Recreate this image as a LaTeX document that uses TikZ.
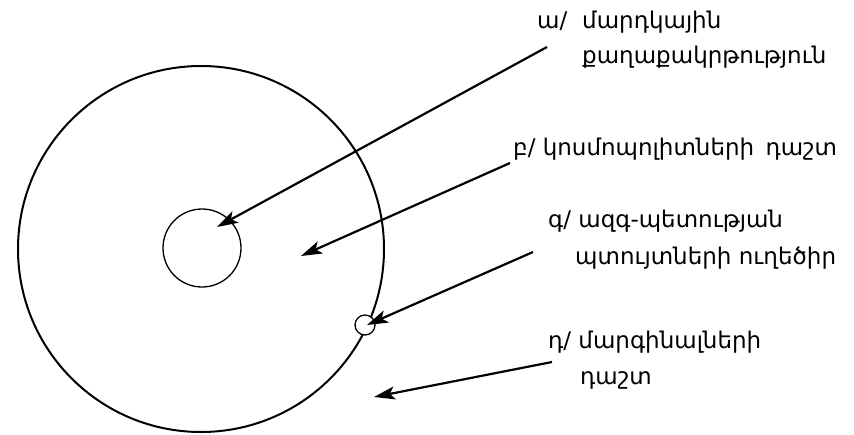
\documentclass[tikz,border=0pt]{standalone}
\usepackage{fontspec}
\setmainfont{DejaVu Sans}
\usetikzlibrary{arrows.meta,positioning}

\begin{document}
\begin{tikzpicture}[x=1pt, y=-1pt,
  ring/.style={circle, draw=black, line width=#1, inner sep=0pt},
  lbl/.style={anchor=base west, inner sep=0pt, font=\fontsize{23}{27}\selectfont},
  pointer/.style={-{Stealth[length=21pt, width=13pt, inset=5pt]}, line width=2.2pt}
]
  \useasboundingbox (0,0) rectangle (854,434);

  % Circles
  \node[ring=2pt, minimum size=366pt] (outer) at (201,249) {};
  \node[ring=1.3pt, minimum size=78pt] (inner) at (202,248) {};
  \node[ring=1.3pt, minimum size=20pt, fill=white] (orbit) at (365,325) {};

  % Labels
  \node[lbl] (aTag) at (537,28) {ա/};
  \node[lbl] (aTop) at (582,28) {մարդկային};
  \node[lbl] (aBot) at (582,63) {քաղաքակրթություն};

  \node[lbl] (bTag) at (513,155) {բ/ կոսմոպոլիտների\hspace{4pt} դաշտ};

  \node[lbl] (cTop) at (548,227) {գ/ ազգ-պետության};
  \node[lbl] (cBot) at (575,264) {պտույտների ուղեծիր};

  \node[lbl] (dTop) at (548,348) {դ/ մարգինալների};
  \node[lbl] (dBot) at (580,384) {դաշտ};

  % Arrow ends
  \coordinate (aFrom) at (547,47);
  \coordinate (aTo)   at (217,227);
  \coordinate (bFrom) at (510,163);
  \coordinate (bTo)   at (301,256);
  \coordinate (cFrom) at (533,252);
  \coordinate (dFrom) at (552,362);
  \coordinate (dTo)   at (374,397);

  % Arrows
  \draw[pointer] (aFrom) -- (aTo);
  \draw[pointer] (bFrom) -- (bTo);
  \draw[pointer] (cFrom) -- ([xshift=2pt]orbit.center);
  \draw[pointer] (dFrom) -- (dTo);
\end{tikzpicture}
\end{document}
